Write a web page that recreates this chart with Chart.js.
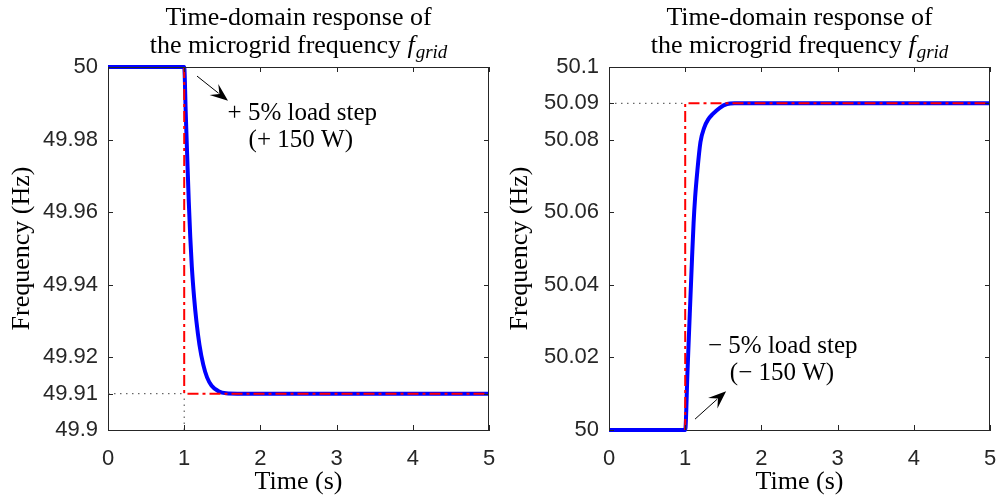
<!DOCTYPE html>
<html>
<head>
<meta charset="utf-8">
<script src="https://cdn.jsdelivr.net/npm/chart.js@4"></script>
<style>
  body { margin: 0; background: #fff; }
  #wrap { position: relative; width: 996px; height: 500px; }
  .panel { position: absolute; top: 0; width: 498px; height: 500px; }
</style>
</head>
<body>
<div id="wrap">
  <div class="panel" style="left:0"><canvas id="left-chart" width="498" height="500"></canvas></div>
  <div class="panel" style="left:498px"><canvas id="right-chart" width="498" height="500"></canvas></div>
</div>
<script>
// ---- data ----
const timeTicks = [0, 1, 2, 3, 4, 5];

// left: +5% load step, frequency drops
const leftTime = [0, 1, 1.02, 1.04, 1.06, 1.08, 1.1, 1.13, 1.16, 1.2, 1.25, 1.3, 1.36, 1.45, 1.55, 1.7, 5];
const leftFreq = [50, 50, 49.9875, 49.975, 49.963, 49.953, 49.945, 49.9365, 49.93, 49.9235, 49.918, 49.9145, 49.9122, 49.9107, 49.9101, 49.91, 49.91];
const leftRefTime = [1, 1, 5];
const leftRefFreq = [50, 49.91, 49.91];
const leftTicks = [49.9, 49.91, 49.92, 49.94, 49.96, 49.98, 50];
const leftTickLabels = ['49.9', '49.91', '49.92', '49.94', '49.96', '49.98', '50'];

// right: -5% load step, frequency rises
const rightTime = [0, 1, 1.03, 1.06, 1.09, 1.11, 1.13, 1.16, 1.2, 1.25, 1.3, 1.36, 1.45, 1.55, 1.65, 5];
const rightFreq = [50, 50, 50.016, 50.032, 50.0475, 50.057, 50.064, 50.0715, 50.0793, 50.0833, 50.0855, 50.087, 50.0887, 50.0898, 50.09, 50.09];
const rightRefTime = [1, 1, 5];
const rightRefFreq = [50, 50.09, 50.09];
const rightTicks = [50, 50.02, 50.04, 50.06, 50.08, 50.09, 50.1];
const rightTickLabels = ['50', '50.02', '50.04', '50.06', '50.08', '50.09', '50.1'];

const titleLine1 = 'Time-domain response of';
const titleLine2 = 'the microgrid frequency ';
const xTitle = 'Time (s)';
const yTitle = 'Frequency (Hz)';

const leftNote = ['+ 5% load step', '(+ 150 W)'];
const rightNote = ['\u2212 5% load step', '(\u2212 150 W)'];

const SERIF = '"Liberation Serif", "Times New Roman", serif';
const SANS = '"Liberation Sans", Arial, sans-serif';
const AXIS_COLOR = '#262626';

function pts(xs, ys) {
    return xs.map((x, i) => ({ x: x, y: ys[i] }));
}

// frame, inward ticks, title and annotation
const decorPlugin = {
    id: 'decor',
    afterDatasetsDraw(chart, args, opts) {
        const ctx = chart.ctx;
        const a = chart.chartArea;
        const xs = chart.scales.x;
        const ys = chart.scales.y;

        ctx.save();
        ctx.strokeStyle = AXIS_COLOR;
        ctx.lineWidth = 1;
        ctx.beginPath();
        ctx.moveTo(a.left, a.top + 0.5);
        ctx.lineTo(a.right, a.top + 0.5);
        ctx.moveTo(a.right - 0.5, a.top);
        ctx.lineTo(a.right - 0.5, a.bottom);
        const tl = 5;
        xs.ticks.forEach((t) => {
            const px = Math.round(xs.getPixelForValue(t.value)) + 0.5;
            ctx.moveTo(px, a.bottom);
            ctx.lineTo(px, a.bottom - tl);
            ctx.moveTo(px, a.top);
            ctx.lineTo(px, a.top + tl);
        });
        ys.ticks.forEach((t) => {
            const py = Math.round(ys.getPixelForValue(t.value)) + 0.5;
            ctx.moveTo(a.left, py);
            ctx.lineTo(a.left + tl, py);
            ctx.moveTo(a.right, py);
            ctx.lineTo(a.right - tl, py);
        });
        ctx.stroke();

        // title
        const cx = (a.left + a.right) / 2;
        ctx.fillStyle = '#000';
        ctx.textBaseline = 'alphabetic';
        ctx.textAlign = 'center';
        ctx.font = '26px ' + SERIF;
        ctx.fillText(titleLine1, cx, 25);

        ctx.font = '26px ' + SERIF;
        const w1 = ctx.measureText(titleLine2).width;
        ctx.font = 'italic 26px ' + SERIF;
        const w2 = ctx.measureText('f').width;
        ctx.font = 'italic 19px ' + SERIF;
        const w3 = ctx.measureText('grid').width;
        let x = cx - (w1 + w2 + 1 + w3) / 2;
        ctx.textAlign = 'left';
        ctx.font = '26px ' + SERIF;
        ctx.fillText(titleLine2, x, 53);
        x += w1;
        ctx.font = 'italic 26px ' + SERIF;
        ctx.fillText('f', x, 53);
        x += w2 + 1;
        ctx.font = 'italic 19px ' + SERIF;
        ctx.fillText('grid', x, 58);

        // note text
        const n = opts.note;
        ctx.textAlign = 'center';
        ctx.textBaseline = 'middle';
        ctx.font = '25px ' + SERIF;
        ctx.fillText(n.lines[0], xs.getPixelForValue(n.x), ys.getPixelForValue(n.y1));
        ctx.fillText(n.lines[1], xs.getPixelForValue(n.x2), ys.getPixelForValue(n.y2));

        // arrow
        const x0 = xs.getPixelForValue(n.from[0]), y0 = ys.getPixelForValue(n.from[1]);
        const x1 = xs.getPixelForValue(n.to[0]), y1 = ys.getPixelForValue(n.to[1]);
        const ang = Math.atan2(y1 - y0, x1 - x0);
        const c = Math.cos(ang), s = Math.sin(ang);
        const L = 16, W = 7;
        const bx = x1 - L * c, by = y1 - L * s;
        const nx = -s, ny = c;
        ctx.strokeStyle = '#000';
        ctx.lineWidth = 1;
        ctx.beginPath();
        ctx.moveTo(x0, y0);
        ctx.lineTo(bx + 4 * c, by + 4 * s);
        ctx.stroke();
        ctx.fillStyle = '#000';
        ctx.beginPath();
        ctx.moveTo(x1, y1);
        ctx.lineTo(bx + nx * W - 2 * c, by + ny * W - 2 * s);
        ctx.lineTo(bx + 5 * c, by + 5 * s);
        ctx.lineTo(bx - nx * W - 2 * c, by - ny * W - 2 * s);
        ctx.closePath();
        ctx.fill();
        ctx.restore();
    }
};

function makeChart(id, cfg) {
    const datasets = [
        {
            data: pts(cfg.refTime, cfg.refFreq),
            borderColor: '#ff0000',
            borderWidth: 2,
            borderDash: [11, 4, 3, 4],
            tension: 0,
            clip: 6
        },
        {
            data: pts(cfg.time, cfg.freq),
            borderColor: '#0000ff',
            borderWidth: 4,
            cubicInterpolationMode: 'monotone',
            clip: 6
        }
    ];
    cfg.dotted.forEach((d) => {
        datasets.push({
            data: pts(d[0], d[1]),
            borderColor: '#444',
            borderWidth: 1,
            borderDash: [1.5, 4.5],
            tension: 0,
            clip: 6
        });
    });

    return new Chart(document.getElementById(id), {
        type: 'line',
        data: { datasets: datasets },
        plugins: [decorPlugin],
        options: {
            responsive: false,
            animation: false,
            events: [],
            elements: { point: { radius: 0 } },
            layout: { padding: { left: 0, top: 67, right: cfg.padRight, bottom: 0 } },
            plugins: {
                legend: { display: false },
                tooltip: { enabled: false },
                decor: { note: cfg.note }
            },
            scales: {
                x: {
                    type: 'linear',
                    min: 0,
                    max: 5,
                    afterBuildTicks: (s) => { s.ticks = timeTicks.map((v) => ({ value: v })); },
                    afterFit: (s) => { s.height = 70; s.paddingLeft = 0; s.paddingRight = 0; },
                    grid: { display: false, drawTicks: false },
                    border: { display: true, color: AXIS_COLOR, width: 1 },
                    ticks: {
                        color: AXIS_COLOR,
                        font: { family: SANS, size: 22 },
                        padding: 16,
                        maxRotation: 0,
                        callback: (v) => String(v)
                    },
                    title: {
                        display: true,
                        text: xTitle,
                        color: '#000',
                        font: { family: SERIF, size: 26 },
                        padding: { top: 0, bottom: 2 }
                    }
                },
                y: {
                    type: 'linear',
                    min: cfg.ticks[0],
                    max: cfg.ticks[cfg.ticks.length - 1],
                    afterBuildTicks: (s) => { s.ticks = cfg.ticks.map((v) => ({ value: v })); },
                    afterFit: (s) => { s.width = cfg.axisWidth; s.paddingTop = 0; s.paddingBottom = 0; },
                    grid: { display: false, drawTicks: false },
                    border: { display: true, color: AXIS_COLOR, width: 1 },
                    ticks: {
                        color: AXIS_COLOR,
                        font: { family: SANS, size: 22 },
                        padding: 10,
                        callback: (v, i) => cfg.tickLabels[i]
                    },
                    title: {
                        display: true,
                        text: yTitle,
                        color: '#000',
                        font: { family: SERIF, size: 26 },
                        padding: { top: 7, bottom: 0 }
                    }
                }
            }
        }
    });
}

makeChart('left-chart', {
    time: leftTime, freq: leftFreq,
    refTime: leftRefTime, refFreq: leftRefFreq,
    dotted: [[[0, 1], [49.91, 49.91]], [[1, 1], [49.9, 49.91]]],
    ticks: leftTicks, tickLabels: leftTickLabels,
    axisWidth: 108, padRight: 9,
    note: { lines: leftNote, x: 2.55, y1: 49.9873, x2: 2.53, y2: 49.9797,
            from: [1.168, 49.9975], to: [1.575, 49.9907] }
});

makeChart('right-chart', {
    time: rightTime, freq: rightFreq,
    refTime: rightRefTime, refFreq: rightRefFreq,
    dotted: [[[0, 1], [50.09, 50.09]]],
    ticks: rightTicks, tickLabels: rightTickLabels,
    axisWidth: 111, padRight: 6,
    note: { lines: rightNote, x: 2.28, y1: 50.0231, x2: 2.27, y2: 50.0157,
            from: [1.129, 50.003], to: [1.537, 50.0107] }
});
</script>
</body>
</html>
